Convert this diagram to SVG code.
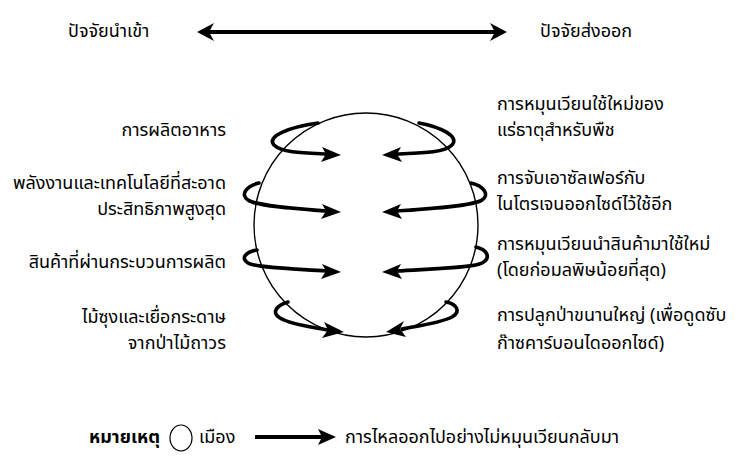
<svg xmlns="http://www.w3.org/2000/svg" width="739" height="467" viewBox="0 0 739 467">
<style>
text{font-family:"Noto Sans Thai","Noto Sans","DejaVu Sans",sans-serif;font-size:18px;fill:#000}
.r{text-anchor:end}
.b{font-weight:bold}
.loop{fill:none;stroke:#000;stroke-width:3.6;stroke-linecap:round}
.head{fill:#000}
</style>
<rect width="739" height="467" fill="#fff"/>
<g id="import"><text x="68" y="37">ปัจจัยนำเข้า</text></g>
<g id="export"><text x="540" y="37">ปัจจัยส่งออก</text></g>
<g id="city">
<circle cx="366" cy="225" r="112" fill="none" stroke="#000" stroke-width="1.4"/>
</g>
<g id="labels-left">
<text class="r" x="226" y="136">การผลิตอาหาร</text>
<text class="r" x="226" y="189">พลังงานและเทคโนโลยีที่สะอาด</text>
<text class="r" x="226" y="215">ประสิทธิภาพสูงสุด</text>
<text class="r" x="226" y="268">สินค้าที่ผ่านกระบวนการผลิต</text>
<text class="r" x="226" y="323">ไม้ซุงและเยื่อกระดาษ</text>
<text class="r" x="226" y="349">จากป่าไม้ถาวร</text>
</g>
<g id="labels-right">
<text x="497" y="110">การหมุนเวียนใช้ใหม่ของ</text>
<text x="497" y="136">แร่ธาตุสำหรับพืช</text>
<text x="497" y="184">การจับเอาซัลเฟอร์กับ</text>
<text x="497" y="210">ไนโตรเจนออกไซด์ไว้ใช้อีก</text>
<text x="497" y="250">การหมุนเวียนนำสินค้ามาใช้ใหม่</text>
<text x="497" y="276">(โดยก่อมลพิษน้อยที่สุด)</text>
<text x="497" y="321">การปลูกป่าขนานใหญ่ (เพื่อดูดซับ</text>
<text x="497" y="349">ก๊าซคาร์บอนไดออกไซด์)</text>
</g>
<g id="connectors">
<line x1="208" y1="32" x2="496" y2="32" stroke="#000" stroke-width="4"/>
<path class="head" d="M197,32 L214,23 L209,32 L214,41 Z"/>
<path class="head" d="M507,32 L490,23 L495,32 L490,41 Z"/>
<path class="loop" d="M318,123 C290,127 266,136 274,145 C282,153 305,153 328,154"/>
<path class="head" d="M341,155 L322,147 L326,154 L321,162 Z"/>
<path class="loop" d="M419,123 C440,127 460,136 452,145 C444,153 420,153 396,154"/>
<path class="head" d="M382,155 L401,147 L397,154 L402,162 Z"/>
<path class="loop" d="M259,183 C246,186 240,195 248,200 C256,206 300,209 326,211"/>
<path class="head" d="M341,212 L322,204 L326,211 L321,219 Z"/>
<path class="loop" d="M471,183 C484,186 490,195 482,200 C474,206 425,209 397,211"/>
<path class="head" d="M382,212 L401,204 L397,211 L402,219 Z"/>
<path class="loop" d="M257,250 C246,252 240,258 248,263 C256,268 300,269 326,271"/>
<path class="head" d="M341,272 L322,264 L326,271 L321,279 Z"/>
<path class="loop" d="M476,247 C488,250 491,258 482,263 C474,268 425,269 397,271"/>
<path class="head" d="M382,272 L401,264 L397,271 L402,279 Z"/>
<path class="loop" d="M288,302 C278,305 270,312 280,318 C292,325 312,327 328,330"/>
<path class="head" d="M344,332 L324,322 L328,330 L322,338 Z"/>
<path class="loop" d="M446,302 C456,304 462,311 452,317 C440,323 418,326 402,329"/>
<path class="head" d="M386,332 L404,321 L400,329 L406,337 Z"/>
<line x1="255" y1="437" x2="323" y2="437" stroke="#000" stroke-width="4"/>
<path class="head" d="M336,437 L318,429 L322,437 L318,445 Z"/>
</g>
<g id="legend">
<text class="b r" x="160" y="443">หมายเหตุ</text>
<ellipse cx="181" cy="438" rx="11" ry="13" fill="none" stroke="#000" stroke-width="1.2"/>
<text x="199" y="443">เมือง</text>
<text x="345" y="443">การไหลออกไปอย่างไม่หมุนเวียนกลับมา</text>
</g>
</svg>
